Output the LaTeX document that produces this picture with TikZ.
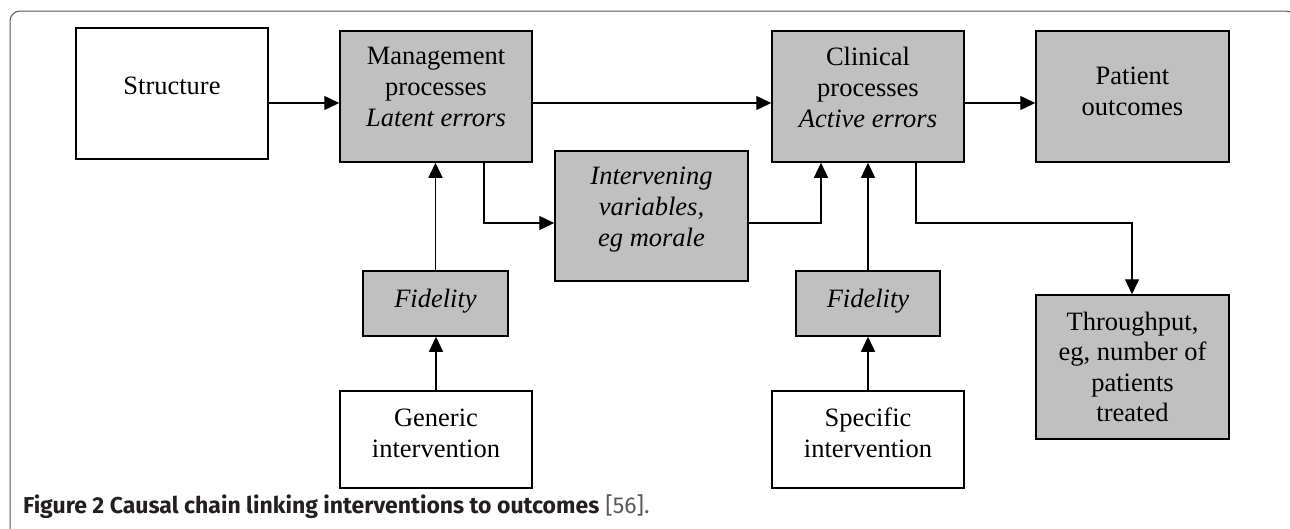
\documentclass[tikz,border=0pt]{standalone}
\usepackage{fontspec}
\setmainfont{Liberation Serif}
\newfontfamily\capfont{Fira Sans}
\usetikzlibrary{arrows.meta}
\definecolor{boxgray}{HTML}{C0C0C0}
\definecolor{framec}{HTML}{555555}
\definecolor{capc}{HTML}{231F20}
\begin{document}
\begin{tikzpicture}[x=1pt,y=-1pt,
  box/.style={draw=black, line width=1.5pt, inner sep=0pt},
  gbox/.style={box, fill=boxgray},
  txt/.style={inner sep=0pt, align=center, font=\fontsize{26.5}{31}\selectfont},
  arr/.style={line width=1.3pt, -{Triangle[length=15pt,width=14pt]}}]
\useasboundingbox (0,0) rectangle (1290,528);
\draw[framec, line width=1pt, rounded corners=10pt] (10,540) -- (10,11) -- (1296,11) -- (1296,540);
% boxes
\node[box, minimum width=192pt, minimum height=131pt,
  label={[txt,yshift=7.5pt]center:Structure}] (struct) at (172,93.5) {};
\node[gbox, minimum width=192pt, minimum height=131pt,
  label={[txt,yshift=9.3pt]center:Management\\processes\\\textit{Latent errors}}] (mgmt) at (436,96.5) {};
\node[gbox, minimum width=192pt, minimum height=131pt,
  label={[txt,yshift=9.5pt]center:Clinical\\processes\\\textit{Active errors}}] (clin) at (868,96.5) {};
\node[gbox, minimum width=193pt, minimum height=131pt,
  label={[txt,yshift=5pt]center:Patient\\outcomes}] (pat) at (1132.5,96.5) {};
\node[gbox, minimum width=193pt, minimum height=130pt,
  label={[txt,yshift=6pt]center:\itshape Intervening\\\itshape variables,\\\itshape eg morale}] (interv) at (651.5,216) {};
\node[gbox, minimum width=145pt, minimum height=65pt,
  label={[txt,yshift=2.6pt]center:\itshape Fidelity}] (fid1) at (435.5,303.5) {};
\node[gbox, minimum width=144pt, minimum height=65pt,
  label={[txt,yshift=2.6pt]center:\itshape Fidelity}] (fid2) at (868,303.5) {};
\node[box, minimum width=192pt, minimum height=97pt,
  label={[txt,yshift=6.3pt]center:Generic\\intervention}] (gen) at (436,439.5) {};
\node[box, minimum width=192pt, minimum height=97pt,
  label={[txt,yshift=6.5pt]center:Specific\\intervention}] (spec) at (868,439.5) {};
\node[gbox, minimum width=193pt, minimum height=144pt,
  label={[txt,font=\fontsize{26.5}{30.4}\selectfont]center:Throughput,\\eg, number of\\patients\\treated}] (thr) at (1132.5,367) {};
% helper coordinates
\coordinate (ya) at (0,103);
\coordinate (yb) at (0,223);
\coordinate (xa) at (484,0);
\coordinate (xb) at (821,0);
\coordinate (xc) at (916,0);
\coordinate (xd) at (1132,0);
% connectors
\draw[arr] (struct.east |- ya) -- (mgmt.west |- ya);
\draw[arr] (mgmt.east |- ya) -- (clin.west |- ya);
\draw[arr] (clin.east |- ya) -- (pat.west |- ya);
\draw[arr] (mgmt.south -| xa) |- (interv.west |- yb);
\draw[arr] (interv.east |- yb) -| (clin.south -| xb);
\draw[arr] (fid1.north) -- (fid1.north |- mgmt.south);
\draw[arr] (gen.north) -- (gen.north |- fid1.south);
\draw[arr] (fid2.north) -- (fid2.north |- clin.south);
\draw[arr] (spec.north) -- (spec.north |- fid2.south);
\coordinate (tturn) at (xd |- yb);
\draw[arr] (clin.south -| xc) |- (tturn) -- (thr.north -| xd);
% caption
\node[anchor=base west, inner sep=0pt, font=\capfont\fontsize{23}{25}\selectfont, text=capc] (cap) at (23,513)
  {\textbf{Figure 2 Causal chain linking interventions to outcomes} \textcolor{black!65}{[56].}};
\end{tikzpicture}
\end{document}
